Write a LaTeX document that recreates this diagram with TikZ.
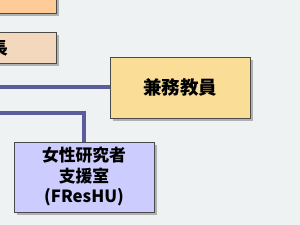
\documentclass[tikz,border=0pt]{standalone}
\usepackage{fontspec}
\setmainfont{Noto Sans CJK JP}
\usetikzlibrary{positioning, shadows}
\definecolor{orgback}{HTML}{EEF2F3}
\definecolor{orgline}{HTML}{5C5C9C}
\definecolor{orgorange}{HTML}{FFCC99}
\definecolor{orgpeach}{HTML}{F4D8BD}
\definecolor{orgyellow}{HTML}{FADD96}
\definecolor{orglilac}{HTML}{CCCCFF}
\definecolor{orgedge}{HTML}{4A4A4A}

\begin{document}
\begin{tikzpicture}[
  x=1pt, y=-1pt,
  orgbox/.style 2 args={
    rectangle, draw=orgedge, line width=0.7pt, fill=#1,
    minimum width=140pt, minimum height=#2,
    drop shadow={shadow xshift=2.5pt, shadow yshift=-2.5pt, fill=black!55},
    font=\bfseries, align=center, inner sep=0pt
  },
  link/.style={line width=4pt, orgline}
]
  \fill[orgback] (0,0) rectangle (300,225);
  \clip (0,0) rectangle (300,225);

  % boxes
  \node[orgbox={orgorange}{33pt}] (head) at (-14,-3.5) {};
  \node[orgbox={orgpeach}{31pt}] (chief) at (-14,47.5) {};
  \node[font=\bfseries\fontsize{17}{20}\selectfont, anchor=east, inner sep=0pt] (chieflabel) at (8,48) {長};
  \node[orgbox={orgyellow}{61pt}, font=\bfseries\fontsize{18.5}{21}\selectfont] (kenmu) at (180,87.5) {兼務教員};
  \node[orgbox={orglilac}{70pt}, font=\bfseries\fontsize{16.8}{20.5}\selectfont] (fres) at (84,177) {女性研究者\\支援室\\(FResHU)};

  % links from the trunk on the left
  \coordinate (trunka) at (-5,87);
  \coordinate (trunkb) at (-5,112.5);
  \draw[link] (trunka) -- (kenmu.west |- trunka);
  \draw[link] (trunkb) -| (fres.north);
\end{tikzpicture}
\end{document}
